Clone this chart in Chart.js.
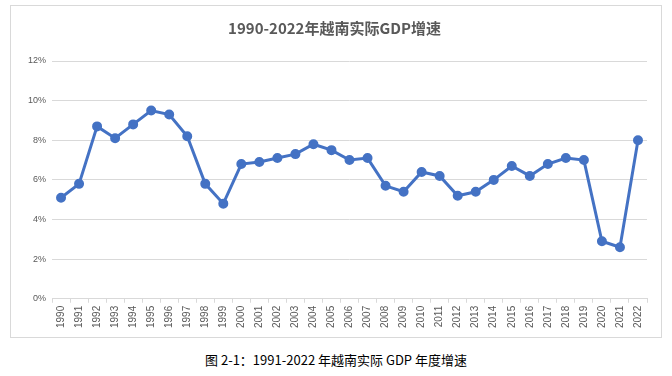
<!DOCTYPE html>
<html>
<head>
<meta charset="utf-8">
<script src="https://cdn.jsdelivr.net/npm/chart.js@4"></script>
<style>
  body { margin: 0; background: #fff; width: 672px; height: 376px; position: relative; overflow: hidden; }
  #box { position: absolute; left: 10px; top: 5px; width: 650px; height: 331px; border: 1px solid #d9d9d9; }
  #caption { position: absolute; left: 0; width: 672px; top: 350px; text-align: center;
             font-family: "Noto Sans CJK SC", sans-serif; font-size: 13px; color: #000; }
</style>
</head>
<body>
<div id="box"><canvas id="gdpChart" width="650" height="331"></canvas></div>
<div id="caption">图 2-1：1991-2022 年越南实际 GDP 年度增速</div>
<script>
// 年份与增速（%）
const years = ['1990','1991','1992','1993','1994','1995','1996','1997','1998','1999','2000',
    '2001','2002','2003','2004','2005','2006','2007','2008','2009','2010','2011',
    '2012','2013','2014','2015','2016','2017','2018','2019','2020','2021','2022'];
const growth = [5.1, 5.8, 8.7, 8.1, 8.8, 9.5, 9.3, 8.2, 5.8, 4.8, 6.8,
    6.9, 7.1, 7.3, 7.8, 7.5, 7.0, 7.1, 5.7, 5.4, 6.4, 6.2,
    5.2, 5.4, 6.0, 6.7, 6.2, 6.8, 7.1, 7.0, 2.9, 2.6, 8.0];
const yTicks = [0, 2, 4, 6, 8, 10, 12];

const ctx = document.getElementById('gdpChart').getContext('2d');
const gdpChart = new Chart(ctx, {
    type: 'line',
    data: {
        labels: years,
        datasets: [{
            label: 'GDP增速',
            data: growth,
            borderColor: '#4472c4',
            backgroundColor: '#4472c4',
            borderWidth: 3,
            pointRadius: 3.5,
            pointHoverRadius: 3.5,
            tension: 0
        }]
    },
    options: {
        responsive: false,
        animation: false,
        layout: { padding: { left: 11, right: 14, top: 5, bottom: 6 } },
        plugins: {
            legend: { display: false },
            tooltip: { enabled: false },
            title: {
                display: true,
                text: '1990-2022年越南实际GDP增速',
                color: '#595959',
                font: { family: '"Noto Sans CJK SC", sans-serif', size: 15, weight: 'bold' },
                padding: { top: 8, bottom: 24 }
            }
        },
        scales: {
            y: {
                min: yTicks[0],
                max: yTicks[yTicks.length - 1],
                afterBuildTicks: axis => { axis.ticks = yTicks.map(v => ({ value: v })); },
                ticks: {
                    color: '#595959',
                    font: { family: '"Liberation Sans", sans-serif', size: 9 },
                    padding: 6,
                    callback: v => v + '%'
                },
                grid: { color: '#d9d9d9', drawTicks: false },
                border: { display: false }
            },
            x: {
                offset: true,
                ticks: {
                    color: '#595959',
                    font: { family: '"Liberation Sans", sans-serif', size: 10 },
                    minRotation: 90,
                    maxRotation: 90,
                    autoSkip: false,
                    padding: 3
                },
                grid: { offset: true, drawOnChartArea: false, drawTicks: true, tickLength: 4, color: '#d9d9d9' },
                border: { color: '#d9d9d9' }
            }
        }
    }
});
</script>
</body>
</html>
